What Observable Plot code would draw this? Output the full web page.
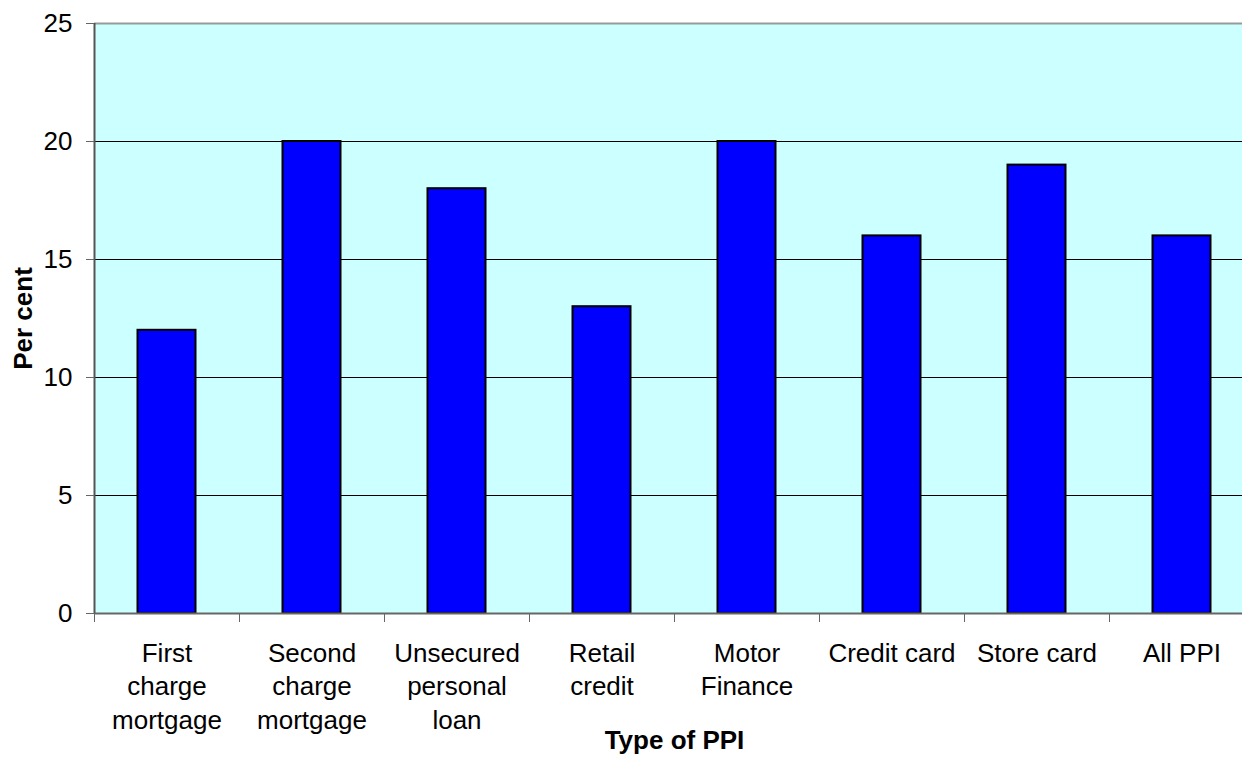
<!DOCTYPE html>
<html>
<head>
<meta charset="utf-8">
<script src="https://cdn.jsdelivr.net/npm/d3@7"></script>
<script src="https://cdn.jsdelivr.net/npm/@observablehq/plot@0.6"></script>
<style>
  html, body { margin: 0; padding: 0; background: #fff; overflow: hidden; }
  #chart svg { display: block; overflow: hidden; }
</style>
</head>
<body>
<div id="chart"></div>
<script>
// PPI take-up by product type, per cent
const categories = [
  "First\ncharge\nmortgage",
  "Second\ncharge\nmortgage",
  "Unsecured\npersonal\nloan",
  "Retail\ncredit",
  "Motor\nFinance",
  "Credit card",
  "Store card",
  "All PPI"
];
const values = [12, 20, 18, 13, 20, 16, 19, 16];
const yTicks = [0, 5, 10, 15, 20, 25];
const xTitle = "Type of PPI";
const yTitle = "Per cent";

const rows = categories.map((name, i) => ({name, i, value: values[i]}));
const font = "'Liberation Sans', Arial, Helvetica, sans-serif";
const fs = 26;

const chart = Plot.plot({
  width: 1242,
  height: 757,
  marginLeft: 94,
  marginTop: 23,
  marginBottom: 144,
  marginRight: -12,
  style: {fontFamily: font, fontSize: fs + "px", color: "#000", background: "#fff", overflow: "hidden"},
  x: {type: "linear", domain: [0, categories.length]},
  y: {domain: [0, 25]},
  marks: [
    Plot.frame({fill: "#CCFFFF", stroke: null}),
    Plot.ruleY(yTicks.filter(t => t > 0 && t < 25), {stroke: "#000", strokeWidth: 1}),
    Plot.rectY(rows, {
      x1: "i", x2: d => d.i + 1, y: "value",
      fill: "#0000FF", stroke: "#000", strokeWidth: 2,
      insetLeft: 43.5, insetRight: 43.5
    }),
    Plot.ruleY([25], {stroke: "#999", strokeWidth: 2}),
    Plot.ruleY([0], {stroke: "#666", strokeWidth: 2}),
    Plot.ruleX([0], {stroke: "#555", strokeWidth: 2}),
    Plot.axisY({ticks: yTicks, tickSize: 8, tickPadding: 14, stroke: "#666", fontSize: fs, label: null}),
    Plot.axisX({ticks: d3.range(categories.length + 1), tickSize: 9, tickFormat: () => "", stroke: "#666", label: null}),
    Plot.axisX({
      ticks: rows.map(d => d.i + 0.5), tickSize: 0, tickPadding: 24,
      tickFormat: v => categories[Math.floor(v)], lineHeight: 1.3, fontSize: fs, label: null
    }),
    Plot.text([yTitle], {
      frameAnchor: "left", dx: -71, rotate: -90, textAnchor: "middle", lineAnchor: "middle",
      fontWeight: "bold", fontSize: fs
    }),
    Plot.text([xTitle], {
      frameAnchor: "bottom", dy: 127, textAnchor: "middle", lineAnchor: "middle",
      fontWeight: "bold", fontSize: fs
    })
  ]
});

document.getElementById("chart").append(chart);
</script>
</body>
</html>
